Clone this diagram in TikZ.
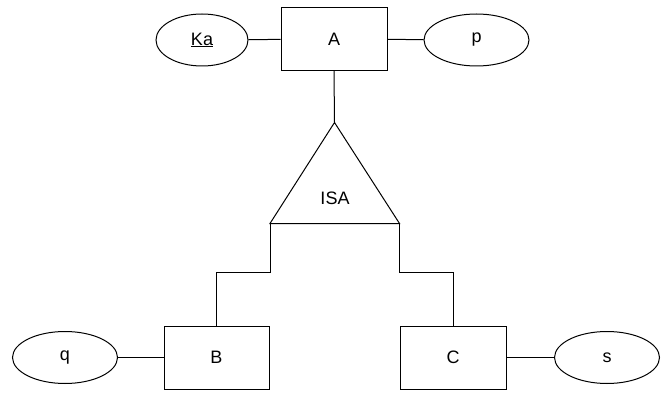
\documentclass[tikz,border=0pt]{standalone}
\usepackage{fontspec}
\setmainfont{Liberation Sans}
\usetikzlibrary{shapes.geometric}
\begin{document}
\begin{tikzpicture}[x=1pt,y=-1pt,line width=1pt,
  lbl/.style={font=\fontsize{18}{20}\selectfont},
  ent/.style={draw,rectangle,minimum width=106pt,minimum height=63pt,inner sep=0pt,lbl},
  attr/.style={draw,ellipse,minimum width=105pt,minimum height=52pt,inner sep=0pt,lbl}]
\useasboundingbox (0,0) rectangle (669,414);
\fill[white] (0,0) rectangle (669,414);
\node[ent] (A) at (334,39) {A};
\node[attr,minimum width=92pt] (Ka) at (202,40) {\underline{Ka}};
\node[attr] (p) at (476.5,40) {p};
\node[ent,minimum width=105pt] (B) at (216.5,357.5) {B};
\node[ent] (C) at (453,357.5) {C};
\node[attr] (q) at (65,357.5) {q};
\node[attr] (s) at (607,357.5) {s};
\coordinate (top) at (334.5,122.5);
\coordinate (bl) at (270,223.5);
\coordinate (br) at (399.5,223.5);
\draw (top) -- (bl) -- (br) -- cycle;
\node[lbl] (isa) at (335,198) {ISA};
\draw (Ka) -- (A);
\draw (A) -- (p);
\draw (A.south) -- (top);
\draw (q) -- (B);
\draw (C) -- (s);
\draw (bl) |- (216.5,272.5) -- (B.north);
\draw (br) |- (453,272.5) -- (C.north);
\end{tikzpicture}
\end{document}
